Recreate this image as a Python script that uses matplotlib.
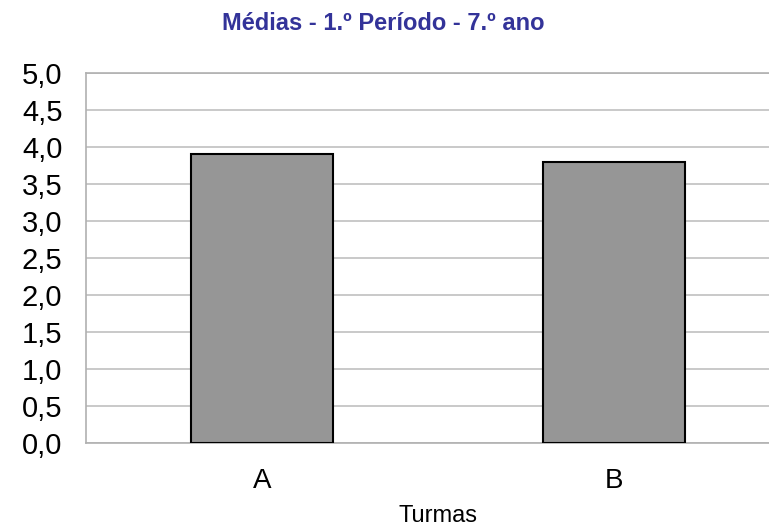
import matplotlib
matplotlib.use("Agg")
import matplotlib.pyplot as plt
from matplotlib.ticker import FuncFormatter, MultipleLocator

turmas = ["A", "B"]
medias = [3.9, 3.8]
title = "Médias - 1.º Período - 7.º ano"
xlabel = "Turmas"

plt.rcParams['font.family'] = ['Liberation Sans', 'DejaVu Sans']

fig = plt.figure(figsize=(7.69, 5.27), dpi=100)
ax = fig.add_axes([86/769, 84/527, 704/769, 370/527])
x = range(len(turmas))
ax.bar(x, medias, width=0.403, color="#969696", edgecolor="black", linewidth=1.5, zorder=3)
ax.set_xlim(-0.5, 1.5)
ax.set_ylim(0, 5)
ax.yaxis.set_major_locator(MultipleLocator(0.5))
ax.yaxis.set_major_formatter(FuncFormatter(lambda v, p: f"{v:.1f}".replace(".", ",")))
ax.set_xticks(list(x))
ax.set_xticklabels(turmas)
ax.grid(axis="y", color="#c0c0c0", linewidth=1.2, zorder=0)
for s in ["left", "top", "bottom", "right"]:
    ax.spines[s].set_color("#b0b0b0")
    ax.spines[s].set_linewidth(1.2)
ax.tick_params(axis="y", length=0, labelsize=21, pad=17)
ax.tick_params(axis="x", length=0, labelsize=20, pad=18)
fig.text(438/769, 1 - 516/527, xlabel, ha="center", va="center", fontsize=17)
fig.text(383/769, 1 - 23/527, title, ha="center", va="center", fontsize=17,
         fontweight="bold", color="#333399")
fig.savefig("out.png", dpi=100)
